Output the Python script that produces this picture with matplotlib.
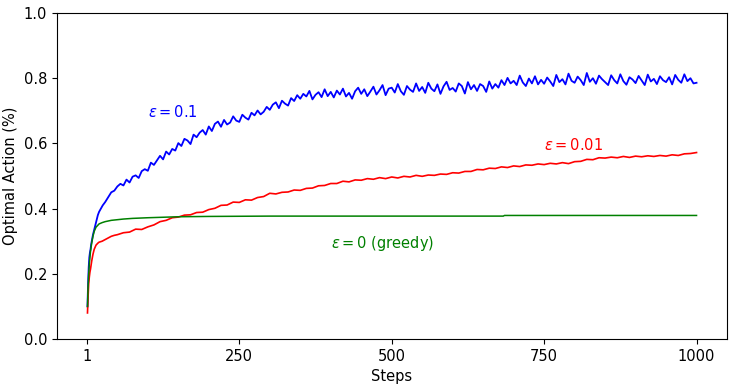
import matplotlib
matplotlib.use('Agg')
import matplotlib.pyplot as plt

# greedy (epsilon = 0)
greedy_steps = [1, 2, 3, 4, 5, 6, 8, 10, 12, 15, 20, 25, 30, 40, 50, 60, 75, 100,
                150, 200, 300, 683, 685, 1000]
greedy_vals = [0.10, 0.16, 0.20, 0.23, 0.25, 0.27, 0.295, 0.315, 0.33, 0.343, 0.353,
               0.357, 0.360, 0.364, 0.366, 0.368, 0.370, 0.372,
               0.375, 0.376, 0.377, 0.377, 0.379, 0.379]

# epsilon = 0.1
blue_steps = [1, 2, 3, 4, 5, 6, 7, 8, 10, 12, 14, 16, 18, 20, 23, 26, 30, 35, 40, 45] + \
    list(range(50, 1001, 5))
blue_vals = [0.10, 0.17, 0.22, 0.25, 0.265, 0.275, 0.29, 0.30, 0.32, 0.335, 0.35, 0.365,
             0.38, 0.39, 0.40, 0.41, 0.42, 0.435, 0.45, 0.455,
             .468, .476, .471, .489, .480, .498, .502, .494, .515, .521,
             .516, .541, .534, .548, .562, .551, .575, .566, .583, .578,
             .601, .592, .614, .609, .598, .627, .619, .633, .641, .627,
             .652, .638, .660, .667, .651, .672, .658, .664, .683, .670,
             .666, .688, .679, .673, .694, .686, .701, .689, .697, .712,
             .703, .719, .726, .708, .731, .722, .716, .739, .730, .748,
             .737, .752, .744, .761, .735, .749, .757, .742, .766, .745,
             .758, .741, .762, .750, .768, .744, .755, .737, .760, .771,
             .752, .766, .745, .759, .774, .750, .763, .779, .748, .768,
             .771, .756, .782, .760, .749, .776, .765, .758, .784, .761,
             .773, .755, .786, .768, .760, .781, .752, .775, .789, .764,
             .770, .759, .784, .776, .753, .788, .766, .779, .761, .782,
             .776, .758, .790, .768, .782, .771, .794, .779, .801, .784,
             .792, .779, .808, .787, .776, .799, .784, .806, .781, .795,
             .783, .802, .790, .776, .810, .788, .797, .781, .814, .792,
             .786, .805, .794, .779, .816, .789, .800, .783, .808, .797,
             .788, .779, .809, .794, .784, .812, .791, .780, .803, .796,
             .785, .807, .793, .779, .811, .790, .798, .782, .806, .794,
             .788, .803, .781, .810, .795, .786, .812, .791, .800, .784,
             .786]

# epsilon = 0.01
red_steps = [1, 2, 3, 4, 5, 6, 8, 10, 12, 15, 18, 20, 25, 30, 35, 40, 45] + \
    list(range(50, 1001, 10))
red_vals = [0.08, 0.13, 0.17, 0.19, 0.205, 0.215, 0.24, 0.26, 0.275, 0.288, 0.294, 0.297,
            0.30, 0.305, 0.31, 0.315, 0.318,
            .320, .326, .328, .337, .336, .344, .350, .360, .364, .372,
            .374, .380, .381, .388, .389, .397, .401, .410, .411, .420,
            .419, .427, .426, .434, .437, .447, .445, .450, .451, .457,
            .456, .462, .463, .470, .471, .477, .477, .484, .482, .488,
            .487, .492, .490, .495, .492, .497, .494, .499, .497, .502,
            .499, .503, .502, .506, .505, .510, .509, .514, .514, .520,
            .519, .524, .523, .528, .526, .531, .529, .534, .533, .537,
            .535, .539, .537, .541, .538, .544, .545, .551, .550, .556,
            .555, .558, .556, .560, .557, .561, .559, .562, .560, .563,
            .561, .565, .563, .568, .569, .572]


def main():
    plt.rcParams['font.size'] = 10.5
    fig = plt.figure(figsize=(7.33, 3.87), dpi=100)
    ax = fig.add_axes([0.0778, 0.124, 0.914, 0.8424])

    ax.plot(blue_steps, blue_vals, color='b', lw=1.3)
    ax.plot(red_steps, red_vals, color='r', lw=1.2)
    ax.plot(greedy_steps, greedy_vals, color='g', lw=1.1)

    ax.text(100, 0.68, r'$\epsilon=0.1$', color='b')
    ax.text(750, 0.58, r'$\epsilon=0.01$', color='r')
    ax.text(400, 0.28, r'$\epsilon=0$ (greedy)', color='g')

    ax.set_ylim(0.0, 1.0)
    ax.set_xticks([1, 250, 500, 750, 1000])
    ax.set_xlabel('Steps')
    ax.set_ylabel('Optimal Action (%)')

    fig.savefig('out.png', dpi=100)


if __name__ == '__main__':
    main()
